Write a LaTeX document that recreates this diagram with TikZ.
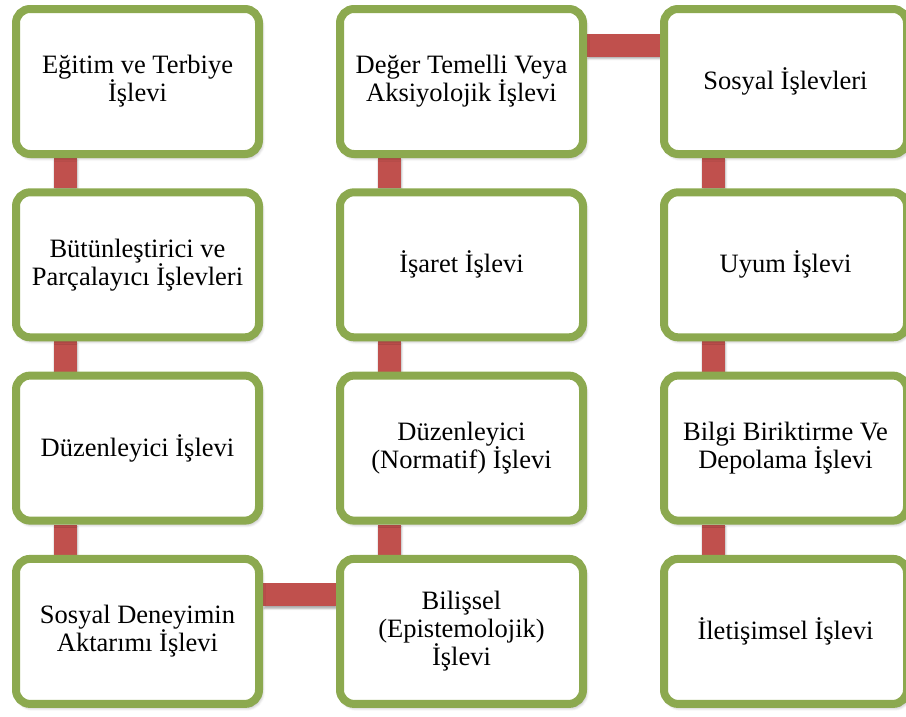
\documentclass[tikz,border=0pt]{standalone}
\usepackage{fontspec}
\setmainfont{Liberation Serif}
\usetikzlibrary{calc,shadows.blur,backgrounds}
\definecolor{boxgreen}{HTML}{8CA94F}
\definecolor{linkred}{HTML}{C0504D}
\tikzset{
  fnbox/.style={draw=boxgreen, line width=8pt, fill=white, rounded corners=14pt,
    minimum width=243pt, minimum height=145pt, inner sep=0pt, align=center,
    font=\fontsize{26.5}{28}\selectfont,
    blur shadow={shadow xshift=2pt, shadow yshift=-3pt, shadow blur radius=4pt,
      shadow blur steps=6, shadow opacity=45}},
  link/.style={fill=linkred,
    blur shadow={shadow xshift=1pt, shadow yshift=-2pt, shadow blur radius=2pt,
      shadow blur steps=4, shadow opacity=35}}
}
\begin{document}
\begin{tikzpicture}[x=1pt,y=1pt]
\useasboundingbox (0,0) rectangle (906,-716);
\clip (0,0) rectangle (906,-716);
% function boxes: three columns, four rows
\node[fnbox] (A1) at (137.5,-81.5)  {Eğitim ve Terbiye\\İşlevi};
\node[fnbox] (A2) at (137.5,-264.8) {Bütünleştirici ve\\Parçalayıcı İşlevleri};
\node[fnbox] (A3) at (137.5,-448.1) {Düzenleyici İşlevi};
\node[fnbox] (A4) at (137.5,-631.4) {Sosyal Deneyimin\\Aktarımı İşlevi};
\node[fnbox] (B1) at (461.5,-81.5)  {Değer Temelli Veya\\Aksiyolojik İşlevi};
\node[fnbox] (B2) at (461.5,-264.8) {İşaret İşlevi};
\node[fnbox] (B3) at (461.5,-448.1) {Düzenleyici\\(Normatif) İşlevi};
\node[fnbox] (B4) at (461.5,-631.4) {Bilişsel\\(Epistemolojik)\\İşlevi};
\node[fnbox] (C1) at (785.5,-81.5)  {Sosyal İşlevleri};
\node[fnbox] (C2) at (785.5,-264.8) {Uyum İşlevi};
\node[fnbox] (C3) at (785.5,-448.1) {Bilgi Biriktirme Ve\\Depolama İşlevi};
\node[fnbox] (C4) at (785.5,-631.4) {İletişimsel İşlevi};
% red links behind the boxes
\begin{scope}[on background layer]
  % vertical links, on the left part of each column (upper box / lower box)
  \foreach \u/\v in {A1/A2,A2/A3,A3/A4,B1/B2,B2/B3,B3/B4,C1/C2,C2/C3,C3/C4}
    \fill[link] ($(\u.south)+(-84,0)$) rectangle ($(\v.north)+(-61,0)$);
  % horizontal links, near the top of the boxes
  \fill[link] ($(A4.east)+(0,48)$) rectangle ($(B4.west)+(0,25)$);
  \fill[link] ($(B1.east)+(0,48)$) rectangle ($(C1.west)+(0,25)$);
\end{scope}
\end{tikzpicture}
\end{document}
